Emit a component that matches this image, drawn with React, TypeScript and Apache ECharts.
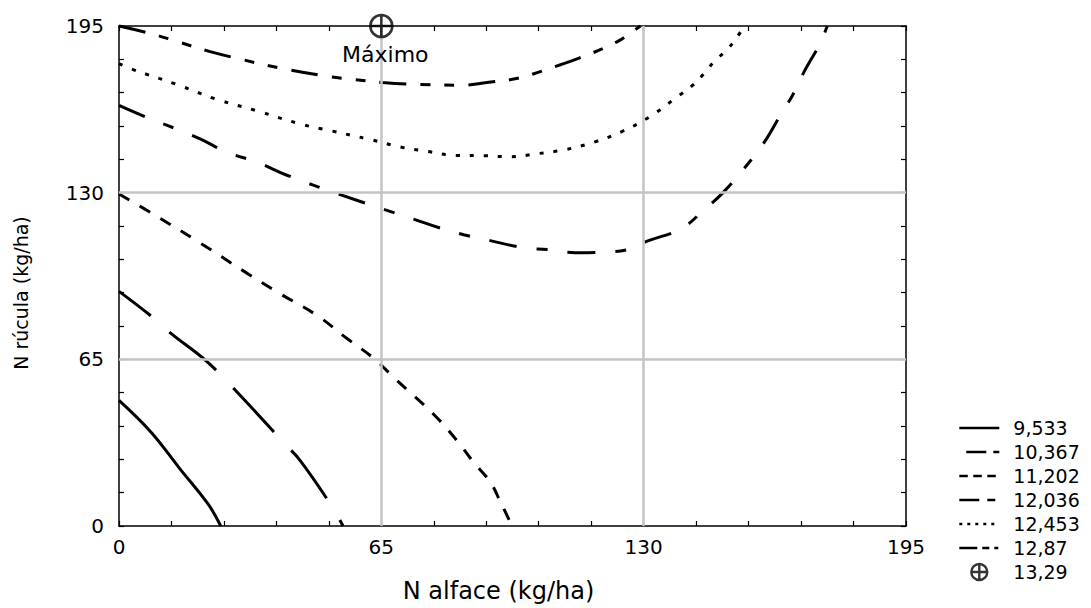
import React, { useEffect, useRef } from "react";
import * as echarts from "echarts";

// ---- data ----
const levelNames = ["9,533", "10,367", "11,202", "12,036", "12,453", "12,87"];
const maxName = "13,29";
const maxLabel = "Máximo";
const maxPoint = [65, 195];
const axisMin = 0;
const axisMax = 195;
const axisStep = 65;
const gridValues = [65, 130];
const xTitle = "N alface (kg/ha)";
const yTitle = "N rúcula (kg/ha)";

const c9533 = [
  [0, 49], [8, 36.5], [15, 22.5], [22.1, 8.5], [25.2, 0],
];
const c10367 = [
  [0, 91.5], [8.1, 81.7], [13.1, 74.8], [21.8, 64.1], [30.4, 50.3],
  [40.8, 32.5], [44.9, 25.5], [52.8, 7.5], [55.5, 0],
];
const c11202 = [
  [0, 129.5], [8.1, 122], [20.1, 110.4], [30.8, 99.5], [40, 90.5], [49, 82.2],
  [56.5, 73.1], [63.1, 65.4], [68.5, 57.3], [78, 43.5], [83.8, 33.2],
  [87.9, 24.8], [92, 17.1], [94.5, 9.4], [97.4, 0],
];
const c12036 = [
  [0, 164], [6.9, 159.3], [14.3, 154.8], [20.1, 151], [26.7, 145.8], [34.2, 141.9],
  [41.6, 136.8], [54, 129.7], [66, 123.3], [73, 119.7],
  [79.6, 116.2], [85.4, 113.6], [92, 111.3], [100.3, 108.5], [106.1, 107.8],
  [113, 106.6], [120, 106.8], [126, 107.8], [130.9, 111.1], [139.2, 115.9],
  [145, 123.3], [149.9, 130.4], [155.7, 141], [159.9, 149.7], [164, 160.6],
  [166.9, 168], [169.8, 177.3], [173.5, 187.6], [175.5, 195],
];
const c12453 = [
  [0, 180.3], [3.5, 178], [14.3, 172.2], [24.2, 166.4], [34.2, 161.9], [44.9, 156.8],
  [52.3, 154.2], [62.3, 150.7], [69.7, 147.8], [76.3, 146.1], [83.4, 144.5],
  [90.4, 144.4], [97, 144], [103.6, 145.2], [110.3, 146.7], [117.7, 149.7],
  [124.7, 153.9], [131.6, 159.7], [138.6, 167.7], [142.1, 171.8], [145.1, 176.7],
  [147.5, 181.2], [150.6, 185.7], [153.3, 191], [154.8, 195],
];
const c12870 = [
  [0, 195], [7.7, 192.1], [14.3, 189], [22.6, 185], [30, 182.1], [39.9, 178.6],
  [51.5, 175.4], [57.3, 174.3], [65.2, 173], [74.7, 172.2], [85, 171.9],
  [91.2, 173], [97.8, 174.3], [102.8, 176.4], [109.4, 179.9], [114, 182.5],
  [120.2, 186.4], [123.9, 189.3], [126.8, 192.4], [129.2, 195],
];
const contours = [c9533, c10367, c11202, c12036, c12453, c12870];

// ---- styles ----
const FONT = "DejaVu Sans";
const plotDash: any[] = ["solid", [60, 25], [12, 12], [28, 20, 11, 20], [4, 10], [27, 14, 10, 14, 10, 14]];
const plotOffset = [0, 20, 0, 0, 0, 0];
const legendDash: any[] = ["solid", [20, 7], [8.5, 5.5], [20, 8, 8, 8], [3, 5], [18, 5, 7, 5, 4, 5]];
const MAX_SYMBOL =
  "path://M0,-10 A10,10 0 1,1 0,10 A10,10 0 1,1 0,-10 Z M-10,0 L10,0 M0,-10 L0,10";

export default function App() {
  const ref = useRef<HTMLDivElement>(null);
  useEffect(() => {
    if (!ref.current) return;
    const chart = echarts.init(ref.current, null, { renderer: "svg" });

    const axisCommon = {
      type: "value" as const,
      min: axisMin,
      max: axisMax,
      interval: axisStep,
      axisLine: { show: true, onZero: false, lineStyle: { color: "#000", width: 1.5 } },
      axisTick: { show: true, inside: true, length: 5, lineStyle: { color: "#000", width: 1.2 } },
      minorTick: { show: true, splitNumber: 5, length: 5, lineStyle: { color: "#000", width: 1.2 } },
      splitLine: { show: false },
    };
    const labelStyle = { fontFamily: FONT, fontSize: 20, color: "#000" };

    const lineSeries = contours.map((d, i) => ({
      name: levelNames[i],
      type: "line",
      data: d,
      smooth: 0.4,
      symbol: "none",
      z: 3,
      clip: false,
      color: "#000",
      lineStyle: {
        color: "#000",
        width: 3,
        type: plotDash[i],
        dashOffset: plotOffset[i],
      },
      emphasis: { disabled: true },
    }));

    const option: any = {
      animation: false,
      backgroundColor: "#fff",
      grid: { left: 119, top: 26, width: 787, height: 505, containLabel: false },
      xAxis: [
        {
          ...axisCommon,
          position: "bottom",
          axisLabel: { ...labelStyle, margin: 11 },
          name: xTitle,
          nameLocation: "middle",
          nameGap: 53,
          nameTextStyle: { fontFamily: FONT, fontSize: 24, color: "#000", padding: [0, 28, 0, 0] },
        },
        { ...axisCommon, position: "top", axisLabel: { show: false } },
      ],
      yAxis: [
        {
          ...axisCommon,
          position: "left",
          axisLabel: { ...labelStyle, margin: 15 },
          name: yTitle,
          nameLocation: "middle",
          nameGap: 89,
          nameTextStyle: { fontFamily: FONT, fontSize: 19, color: "#000", padding: [0, 34, 0, 0] },
        },
        { ...axisCommon, position: "right", axisLabel: { show: false } },
      ],
      legend: {
        orient: "vertical",
        left: 958,
        top: 416,
        padding: 0,
        itemWidth: 40,
        itemHeight: 16,
        itemGap: 0,
        selectedMode: false,
        textStyle: { fontFamily: FONT, fontSize: 19, color: "#000", lineHeight: 24, padding: [0, 0, 0, 9] },
        data: [
          ...levelNames.map((n, i) => ({
            name: n,
            itemStyle: { color: "rgba(0,0,0,0)", borderWidth: 0, opacity: 0 },
            lineStyle: { color: "#000", width: 2.6, type: legendDash[i], opacity: 1 },
          })),
          {
            name: maxName,
            icon: MAX_SYMBOL,
            itemStyle: { color: "rgba(0,0,0,0)", borderColor: "#000", borderWidth: 2.4 },
          },
        ],
      },
      series: [
        {
          type: "line",
          data: [],
          z: 1,
          silent: true,
          markLine: {
            silent: true,
            symbol: ["none", "none"],
            label: { show: false },
            lineStyle: { color: "#c4c4c4", width: 2.5, type: "solid" },
            emphasis: { disabled: true },
            data: [
              ...gridValues.map((v) => ({ xAxis: v })),
              ...gridValues.map((v) => ({ yAxis: v })),
            ],
          },
        },
        ...lineSeries,
        {
          name: maxName,
          type: "scatter",
          data: [maxPoint],
          symbol: MAX_SYMBOL,
          symbolSize: 22,
          symbolKeepAspect: true,
          clip: false,
          z: 5,
          itemStyle: { color: "rgba(0,0,0,0)", borderColor: "#000", borderWidth: 2.6 },
          label: {
            show: true,
            formatter: maxLabel,
            position: "bottom",
            distance: 5,
            offset: [4, 0],
            fontFamily: FONT,
            fontSize: 22,
            color: "#000",
            opacity: 1,
          },
          emphasis: { disabled: true },
        },
      ],
    };
    chart.setOption(option);
    return () => chart.dispose();
  }, []);

  return (
    <div
      ref={ref}
      style={{ position: "absolute", left: 0, top: 0, width: 1091, height: 608 }}
    />
  );
}
